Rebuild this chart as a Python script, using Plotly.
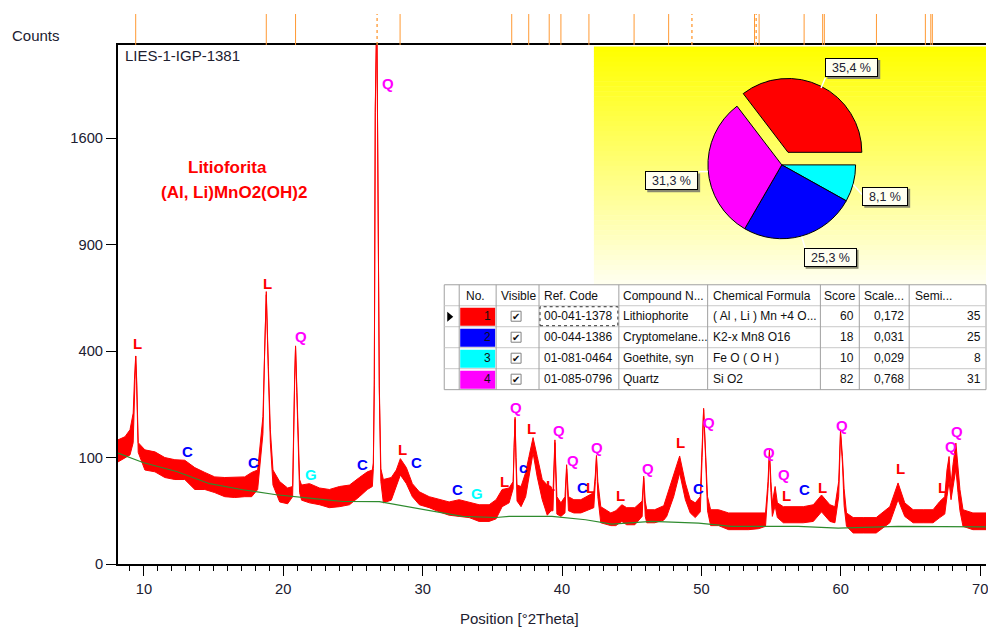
import numpy as np
import plotly.graph_objects as go

# ---------------- data ----------------
two_theta = [8.14, 8.64, 9.00, 9.23, 9.32, 9.41, 9.48, 9.59,
             10.07, 10.79, 11.50, 12.22, 12.93, 13.65, 14.37, 15.08, 15.80, 16.51, 17.23, 17.73, 18.16,
             18.54, 18.66, 18.78, 18.93, 19.07, 19.26, 19.74, 20.31, 20.67,
             20.81, 20.88, 20.97, 21.10, 21.17, 21.31, 21.88, 22.60, 23.31, 24.03, 24.75, 25.46, 26.03, 26.39,
             26.46, 26.53, 26.60, 26.71, 26.82, 26.89, 27.00, 27.18, 27.75, 28.11, 28.40, 28.83, 29.26, 29.76,
             30.47, 31.19, 31.90, 32.62, 33.34, 34.05, 34.77, 35.27, 35.70, 36.20,
             36.49, 36.56, 36.63, 36.70, 36.77, 37.06, 37.39, 37.63, 37.92, 38.22, 38.58, 38.94,
             39.21, 39.35, 39.49, 39.63, 39.92, 40.21, 40.33, 40.46, 40.85, 41.35, 41.78, 42.28,
             42.39, 42.47, 42.57, 42.78, 43.50, 43.86, 44.29, 44.64, 45.22, 45.75, 45.86, 45.97, 46.08, 46.65, 47.30, 47.51,
             48.01, 48.44, 48.85, 49.20, 49.56, 49.92, 50.05, 50.16, 50.30, 50.44, 50.66, 51.23, 51.95, 52.66, 53.38, 54.10, 54.60,
             54.78, 54.88, 54.99, 55.09, 55.29, 55.45, 55.88, 56.60, 57.31, 58.03, 58.62, 59.22, 59.58,
             59.85, 59.98, 60.12, 60.24, 60.41, 60.89, 61.61, 62.54, 63.52, 64.11, 64.59, 65.19, 65.91, 66.62,
             67.10, 67.46, 67.62, 67.77, 67.91, 68.05, 68.26, 68.41, 68.55, 68.77, 69.48, 70.42]

counts_upper = [136, 143, 159, 201, 300, 382, 300, 130,
                115, 111, 100, 96, 95, 82, 74, 67, 66, 66, 67, 74, 78,
                192, 437, 655, 344, 159, 78, 60, 51, 53,
                300, 420, 278, 122, 63, 55, 57, 51, 49, 53, 55, 66, 75, 78,
                90, 300, 1850, 2700, 1200, 280, 80, 63, 66, 78, 98, 82, 57, 46,
                40, 36.5, 34, 36.5, 34, 31, 31, 36.5, 49, 51,
                60, 130, 190, 100, 55, 53, 74, 102, 141, 102, 63, 55,
                53, 45, 136, 40, 33, 40, 87, 40, 36.5, 36.5, 40, 45,
                70, 104, 60, 29, 23, 25, 31, 28, 28, 35, 68, 35, 26, 26, 30, 40,
                68, 103, 58, 36.5, 33, 40, 120, 214, 109, 40, 26, 26, 23, 23, 23, 23, 23,
                60, 115, 60, 33, 53, 33, 29, 29, 29, 31, 42, 31, 29,
                60, 159, 102, 50, 23, 19, 19, 19, 29, 58, 33, 26, 26, 26,
                34.5, 40, 78, 102, 55, 87, 129, 78, 49, 26, 23, 23]

counts_lower = [92, 100, 105, 130, 250, 382, 280, 110,
                78, 75, 66, 63, 63, 49, 49, 45, 40, 39, 40, 40, 49,
                150, 400, 640, 320, 130, 55, 34, 32, 40,
                280, 415, 260, 100, 45, 36, 33, 31, 28, 29, 31, 40, 49, 53,
                80, 280, 1800, 2700, 1150, 260, 60, 33, 36, 53, 70, 57, 40, 31,
                28, 24, 21, 20, 19, 16, 16, 18, 29, 33,
                50, 120, 185, 90, 35, 29, 40, 67, 109, 67, 36.5, 21,
                25, 25, 130, 22, 20, 23, 80, 25, 23, 23, 25, 28,
                60, 100, 40, 15, 13, 13, 16, 13.6, 13.6, 20, 65, 20, 15, 15, 17, 20,
                40, 73, 36.5, 23, 19, 24, 100, 210, 100, 25, 13, 13, 10.4, 10.4, 10.4, 11, 12.5,
                50, 110, 45, 20, 30, 19, 15, 15, 15, 16, 24, 16, 15,
                40, 150, 90, 30, 12.5, 8.5, 8.5, 8.5, 15, 36.5, 20, 15, 15, 15,
                19, 22, 40, 60, 36.5, 50, 80, 45, 25, 12.5, 10.4, 10.4]

background_theta = [8.14, 9.93, 12.34, 14.72, 17.09, 19.50, 21.88, 24.27, 26.89, 28.11, 30.47, 32.84,
                    35.27, 36.20, 39.28, 41.69, 43.57, 46.43, 49.80, 52.16, 56.95, 59.81, 64.11, 70.42]
background_counts = [108.6, 91, 75.6, 56.9, 48.7, 42.3, 38.4, 34.5, 34.3, 31, 25, 20,
                     19.1, 20, 20, 17.3, 14.1, 16, 14.8, 12.5, 12.5, 11.4, 12.5, 12.1]

ref_lines = [9.41, 18.78, 20.88, 28.38, 36.39, 37.61, 39.08, 39.92, 41.93, 45.17, 47.65,
             53.81, 54.14, 57.37, 58.70, 58.82, 62.56, 66.07, 66.46, 66.57]
ref_lines_dashed = [26.73, 49.32, 53.93]

label_text = ['L', 'C', 'C', 'L', 'Q', 'G', 'C', 'Q', 'L', 'C', 'C', 'G', 'L', 'Q', 'c', 'L', 'L', 'Q', 'Q', 'C',
              'L', 'Q', 'L', 'Q', 'L', 'C', 'Q', 'Q', 'Q', 'L', 'C', 'L', 'Q', 'L', 'L', 'Q', 'Q']
label_theta = [9.52, 13.10, 17.87, 18.90, 21.24, 22.00, 25.66, 27.49, 28.56, 29.56, 32.50, 33.93, 35.84, 36.72,
               37.22, 37.82, 39.18, 39.78, 40.80, 41.45, 42.05, 42.52, 44.20, 46.17, 48.49, 49.80, 50.55, 54.88,
               55.96, 56.12, 57.39, 58.68, 60.11, 64.31, 67.29, 67.93, 68.36]
label_counts = [431, 112, 91, 693, 457, 70, 87, 2040, 115, 91, 49, 44, 60, 215, 83, 163, 55, 157, 95, 51,
                51, 119, 41, 81, 130, 50, 177, 110, 70, 41, 49, 51, 169, 80, 51, 121, 155]
phase_colors = {'L': '#FF0000', 'C': '#0000FF', 'c': '#0000FF', 'Q': '#FF00FF', 'G': '#00FFFF'}

y_tick_counts = [0, 100, 400, 900, 1600]
x_ticks = [10, 20, 30, 40, 50, 60, 70]

pie_values = [8.1, 25.3, 31.3, 35.4]          # Goethite, Cryptomelane, Quartz, Lithiophorite
pie_colors = ['#00FFFF', '#0000FF', '#FF00FF', '#FF0000']
pie_pull = [0, 0, 0, 0.19]

table_header = ['No.', 'Visible', 'Ref. Code', 'Compound N...', 'Chemical Formula', 'Score', 'Scale...', 'Semi...']
table_no = [1, 2, 3, 4]
table_colors = ['#FF0000', '#0000FF', '#00FFFF', '#FF00FF']
ref_codes = ['00-041-1378', '00-044-1386', '01-081-0464', '01-085-0796']
compound_names = ['Lithiophorite', 'Cryptomelane...', 'Goethite, syn', 'Quartz']
formulas = ['( Al , Li ) Mn +4 O...', 'K2-x Mn8 O16', 'Fe O ( O H )', 'Si O2']
scores = [60, 18, 10, 82]
scale_factors = ['0,172', '0,031', '0,029', '0,768']
semi_quant = [35, 25, 8, 31]

# ---------------- layout geometry (pixels) ----------------
W, H = 988, 628
L_M, T_M, B_Y = 118, 45, 564.5
PW, PH = W - L_M, B_Y - T_M
FONT = 'Liberation Sans, Arial, sans-serif'
TXT = '#202030'


def px(x):
    return (x - L_M) / PW


def py(y):
    return (B_Y - y) / PH


def note(x, y, text, size, color=TXT, xa='center', ya='middle', **kw):
    d = dict(xref='paper', yref='paper', x=px(x), y=py(y), xanchor=xa, yanchor=ya, showarrow=False,
             text=text, font=dict(family=FONT, size=size, color=color))
    d.update(kw)
    return d


fig = go.Figure()

# pattern: noisy band between lower and upper envelope
fig.add_trace(go.Scatter(x=two_theta, y=np.sqrt(counts_lower), mode='lines',
                         line=dict(color='#FF0000', width=1), hoverinfo='skip', showlegend=False))
fig.add_trace(go.Scatter(x=two_theta, y=np.sqrt(counts_upper), mode='lines', fill='tonexty',
                         fillcolor='#FF0000', line=dict(color='#FF0000', width=1),
                         hoverinfo='skip', showlegend=False))
fig.add_trace(go.Scatter(x=background_theta, y=np.sqrt(background_counts), mode='lines',
                         line=dict(color='#2E8B2E', width=1.2), hoverinfo='skip', showlegend=False))

shapes = []
annotations = []

# reference markers above the plot
for t in ref_lines:
    shapes.append(dict(type='line', xref='x', yref='paper', x0=t, x1=t, y0=1.0, y1=py(14),
                       line=dict(color='#FF9933', width=1)))
for t in ref_lines_dashed:
    shapes.append(dict(type='line', xref='x', yref='paper', x0=t, x1=t, y0=1.0, y1=py(14),
                       line=dict(color='#FF9933', width=1.3, dash='dot')))

# yellow gradient panel
x_a, x_b, y_a, y_b = 595, 988, 46.5, 285
nb = 48
for i in range(nb):
    f = i / (nb - 1)
    b = int(round(0 + 238 * f))
    ya = y_a + (y_b - y_a) * i / nb
    yb = y_a + (y_b - y_a) * (i + 1) / nb + 0.6
    shapes.append(dict(type='rect', xref='paper', yref='paper', layer='below',
                       x0=px(x_a), x1=px(x_b), y0=py(yb), y1=py(ya),
                       fillcolor='rgb(255,255,%d)' % b, line=dict(width=0)))

# pie
pcx, pcy, pr = 783.3, 165, 74
half = pr * (1 + max(pie_pull))
fig.add_trace(go.Pie(values=pie_values, marker=dict(colors=pie_colors, line=dict(color='black', width=1)),
                     sort=False, direction='clockwise', rotation=90, pull=pie_pull,
                     textinfo='none', hoverinfo='skip', showlegend=False,
                     domain=dict(x=[px(pcx - half), px(pcx + half)], y=[py(pcy + half), py(pcy - half)])))

# pie labels
pie_label_pos = [(887, 196.5, 46), (831.7, 257.5, 53), (673, 181, 53), (853.5, 67.5, 53)]
leaders = [((855, 185), (864, 195)), ((803.3, 237), (806.7, 248.3)),
           ((700, 171.7), (709.3, 171.7)), ((822.7, 88), (827, 77.7))]
for v, (cx, cy, bw), (p0, p1) in zip(pie_values, pie_label_pos, leaders):
    shapes.append(dict(type='line', xref='paper', yref='paper', layer='above',
                       x0=px(p0[0]), y0=py(p0[1]), x1=px(p1[0]), y1=py(p1[1]),
                       line=dict(color='white', width=1.5)))
    shapes.append(dict(type='rect', xref='paper', yref='paper', layer='above',
                       x0=px(cx - bw / 2 + 2), x1=px(cx + bw / 2 + 2), y0=py(cy + 9.5 + 2), y1=py(cy - 9.5 + 2),
                       fillcolor='#8a8a70', line=dict(width=0)))
    annotations.append(note(cx, cy, ('%.1f %%' % v).replace('.', ','), 12.5,
                            width=bw - 2, height=17, bgcolor='#FFFFF0', bordercolor='black',
                            borderwidth=1, borderpad=0))

# table
col_edges = [445, 460, 497, 540, 620, 709, 822, 861, 911, 988]
row_edges = [285, 306, 327, 348, 369, 390]
shapes.append(dict(type='rect', xref='paper', yref='paper', layer='below',
                   x0=px(445), x1=px(988), y0=py(390), y1=py(285), fillcolor='white',
                   line=dict(color='#A0A0A0', width=1)))
for r in row_edges[1:-1]:
    shapes.append(dict(type='line', xref='paper', yref='paper', layer='below',
                       x0=px(445), x1=px(988), y0=py(r), y1=py(r), line=dict(color='#C8C8C8', width=1)))
for c in col_edges[1:-1]:
    shapes.append(dict(type='line', xref='paper', yref='paper', layer='below',
                       x0=px(c), x1=px(c), y0=py(390), y1=py(285), line=dict(color='#A0A0A0', width=1)))
hdr_x = [465, 500, 543, 622, 712, 824, 864, 915]
for t, hx in zip(table_header, hdr_x):
    annotations.append(note(hx, 296, t, 12, '#101010', xa='left'))
for i in range(4):
    top, bot = row_edges[i + 1], row_edges[i + 2]
    cy = (top + bot) / 2
    shapes.append(dict(type='rect', xref='paper', yref='paper', layer='below',
                       x0=px(461), x1=px(496), y0=py(bot - 1), y1=py(top + 2),
                       fillcolor=table_colors[i], line=dict(width=0)))
    shapes.append(dict(type='rect', xref='paper', yref='paper', layer='below',
                       x0=px(512), x1=px(522), y0=py(cy + 5), y1=py(cy - 5),
                       fillcolor='white', line=dict(color='#808080', width=1)))
    cells = [(494, 'right', str(table_no[i])), (517, 'center', '✔'), (543, 'left', ref_codes[i]),
             (622, 'left', compound_names[i]), (712, 'left', formulas[i]), (858, 'right', str(scores[i])),
             (908, 'right', scale_factors[i]), (985, 'right', str(semi_quant[i]))]
    for cx, anc, t in cells:
        annotations.append(note(cx, cy, t, 12 if t != '✔' else 10, '#101010', xa=anc))
r1t, r1b = row_edges[1], row_edges[2]
shapes.append(dict(type='rect', xref='paper', yref='paper', layer='below',
                   x0=px(541), x1=px(619), y0=py(r1b - 1), y1=py(r1t + 1),
                   line=dict(color='#303030', width=1, dash='dot')))
shapes.append(dict(type='path', xref='paper', yref='paper', layer='below',
                   path='M %f,%f L %f,%f L %f,%f Z' % (px(448), py(312), px(448), py(322), px(454), py(317)),
                   fillcolor='black', line=dict(width=0)))

# phase letters
for t, x, c in zip(label_text, label_theta, label_counts):
    annotations.append(dict(x=x, y=np.sqrt(c), xref='x', yref='y', xanchor='center', yanchor='middle',
                            text='<b>%s</b>' % t, showarrow=False,
                            font=dict(family=FONT, size=15, color=phase_colors[t])))

# texts
annotations.append(note(228, 167.5, '<b>Litioforita</b>', 17, '#FF0000'))
annotations.append(note(234, 192.5, '<b>(Al, Li)MnO2(OH)2</b>', 17, '#FF0000'))
annotations.append(note(123, 56, 'LIES-1-IGP-1381', 15, xa='left'))
annotations.append(note(10, 35, 'Counts', 15, xa='left'))
annotations.append(note(520, 619, 'Position [°2Theta]', 15))

fig.update_layout(
    width=W, height=H, margin=dict(l=L_M, r=0, t=T_M, b=H - B_Y, pad=0),
    paper_bgcolor='white', plot_bgcolor='white',
    shapes=shapes, annotations=annotations, showlegend=False,
    xaxis=dict(range=[8.14, 70.42], tickvals=x_ticks, showgrid=False, zeroline=False,
               showline=True, linecolor='black', linewidth=2, mirror=True,
               ticks='outside', ticklen=10, tickwidth=1, tickcolor='black', ticklabeloverflow='allow',
               tickfont=dict(family=FONT, size=14.7, color=TXT),
               minor=dict(dtick=1, tick0=0, ticks='outside', ticklen=5, tickcolor='black', tickwidth=1)),
    yaxis=dict(range=[0, 48.76], tickvals=np.sqrt(y_tick_counts), ticktext=[str(v) for v in y_tick_counts],
               showgrid=False, zeroline=False, showline=True, linecolor='black', linewidth=2,
               ticks='outside', ticklen=10, tickwidth=1, tickcolor='black',
               tickfont=dict(family=FONT, size=14.7, color=TXT)),
)

fig.write_html("out.html", config={'displayModeBar': False, 'staticPlot': True},
               post_script="document.body.style.margin='0';document.body.style.overflow='hidden';")
